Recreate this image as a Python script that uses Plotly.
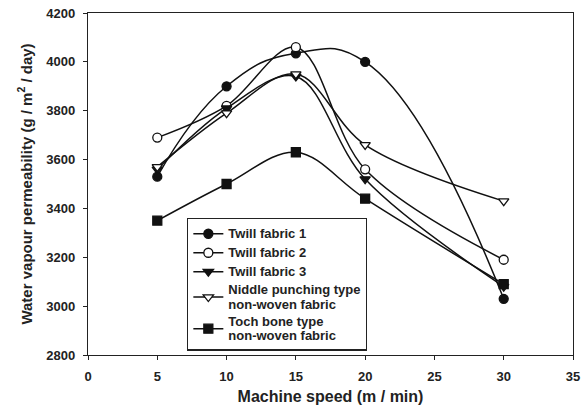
import plotly.graph_objects as go

speed = [5, 10, 15, 20, 30]
twill_1 = [3530, 3900, 4035, 4000, 3030]
twill_2 = [3690, 3820, 4060, 3560, 3190]
twill_3 = [3560, 3810, 3940, 3520, 3080]
niddle = [3570, 3790, 3950, 3660, 3430]
toch_bone = [3350, 3500, 3630, 3440, 3090]

series = [
    ("Twill fabric 1", twill_1, "circle", "#111", 1.3),
    ("Twill fabric 2", twill_2, "circle", "white", 1.0),
    ("Twill fabric 3", twill_3, "triangle-down", "#111", 1.0),
    ("Niddle punching type<br>non-woven fabric", niddle, "triangle-down", "white", 1.0),
    ("Toch bone type<br>non-woven fabric", toch_bone, "square", "#111", 1.0),
]

# legend rows are laid out at 11px spacing, with the label glyphs a little larger
label_style = '<span style="font-size:13px"><b>{}</b></span>'

fig = go.Figure()
for name, vals, sym, fill, smooth in series:
    styled = "<br>".join(label_style.format(part) for part in name.split("<br>"))
    fig.add_trace(go.Scatter(
        x=speed, y=vals, name=styled, mode="lines+markers",
        line=dict(color="#111", width=1.5, shape="spline", smoothing=smooth),
        marker=dict(symbol=sym, size=9, color=fill,
                    line=dict(color="#111", width=1.3)),
    ))

font = "Liberation Sans, Arial, sans-serif"
axis_common = dict(
    showline=True, linecolor="#222", linewidth=1.4, mirror=True,
    ticks="outside", ticklen=4, tickcolor="#222", showgrid=False, zeroline=False,
    tickfont=dict(family=font, size=13, color="#222"),
    tickprefix="<b>", ticksuffix="</b>", ticklabelstandoff=5,
    automargin=False,
)
fig.update_layout(
    width=587, height=407,
    margin=dict(l=88, r=14, t=13, b=52),
    paper_bgcolor="white", plot_bgcolor="white",
    font=dict(family=font, color="#222"),
    xaxis=dict(range=[0, 35], dtick=5,
               title=dict(text="<b>Machine speed (m / min)</b>", font=dict(size=16), standoff=8),
               **axis_common),
    yaxis=dict(range=[2800, 4200], dtick=200,
               title=dict(text="<b>Water vapour permeability (g / m<sup>2</sup> / day)</b>",
                          font=dict(size=15), standoff=10),
               **axis_common),
    legend=dict(x=0.204, y=0.401, xanchor="left", yanchor="top",
                bgcolor="white", bordercolor="#222", borderwidth=1.4,
                font=dict(family=font, size=11, color="#222"),
                tracegroupgap=0, itemwidth=30),
)

fig.write_html("out.html")
